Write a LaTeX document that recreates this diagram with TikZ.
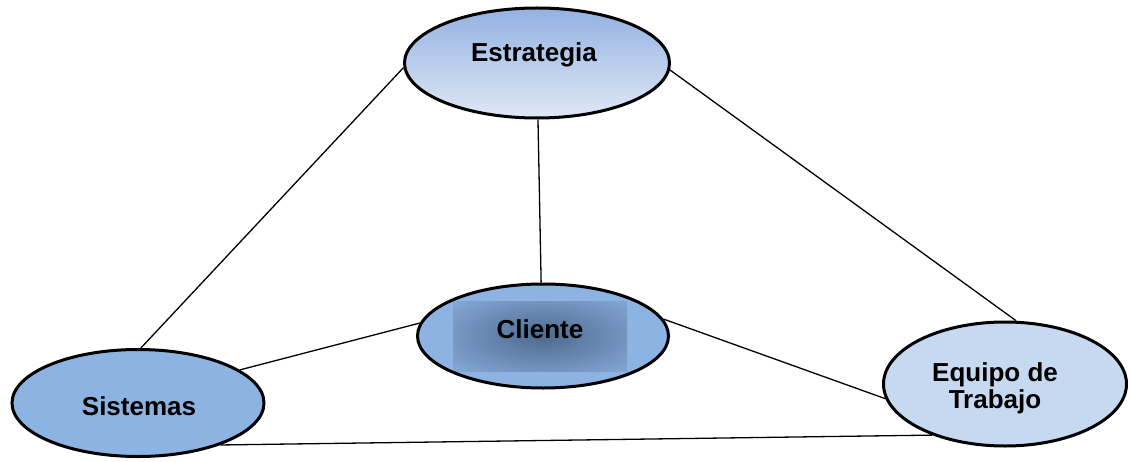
\documentclass[tikz,border=0pt]{standalone}
\usepackage{fontspec}
\setmainfont{Liberation Sans}
\usetikzlibrary{shapes.geometric}
\definecolor{estTop}{HTML}{93B1E1}
\definecolor{estBot}{HTML}{E0E8F6}
\definecolor{midBlue}{HTML}{8DB3E2}
\definecolor{lightBlue}{HTML}{C6D9F1}
\definecolor{cliDark}{HTML}{4E6A90}
\tikzset{
  bubble/.style={ellipse, draw=black, line width=3pt, inner sep=0pt},
  label text/.style={font=\fontsize{26}{27}\selectfont\bfseries, inner sep=0pt, text=black},
  link/.style={draw=black, line width=1.3pt},
}
\begin{document}
\begin{tikzpicture}[x=1pt,y=1pt]
\useasboundingbox (0,0) rectangle (1131,461);
% ellipses
\node[bubble, minimum width=265pt, minimum height=110pt, top color=estTop, bottom color=estBot] (est) at (537,398) {};
\node[bubble, minimum width=251pt, minimum height=104pt, fill=midBlue,
  path picture={\shade[inner color=cliDark, outer color=midBlue!95!black] ([xshift=-90pt,yshift=-35pt]path picture bounding box.center) rectangle ++(174,70);}] (cli) at (543,125) {};
\node[bubble, minimum width=252pt, minimum height=107pt, fill=midBlue] (sis) at (138,58) {};
\node[bubble, minimum width=243pt, minimum height=124pt, fill=lightBlue] (equ) at (1005,77) {};
% texts
\node[label text, anchor=base] (estT) at (534,399.5) {Estrategia};
\node[label text, anchor=base] (cliT) at (540,122.5) {Cliente};
\node[label text, anchor=base] (sisT) at (139,45.5) {Sistemas};
\node[label text, anchor=north, align=center] (equT) at (995,98.5) {Equipo de\\Trabajo};
% connectors
\draw[link] (est.182) -- (sis.87);
\draw[link] (est.271) -- (cli.92);
\draw[link] (est.-3.8) -- (equ.80);
\draw[link] (cli.174) -- (sis.18);
\draw[link] (cli.8.3) -- (equ.187.7);
\draw[link] (sis.-27) -- (equ.215.5);
\end{tikzpicture}
\end{document}
